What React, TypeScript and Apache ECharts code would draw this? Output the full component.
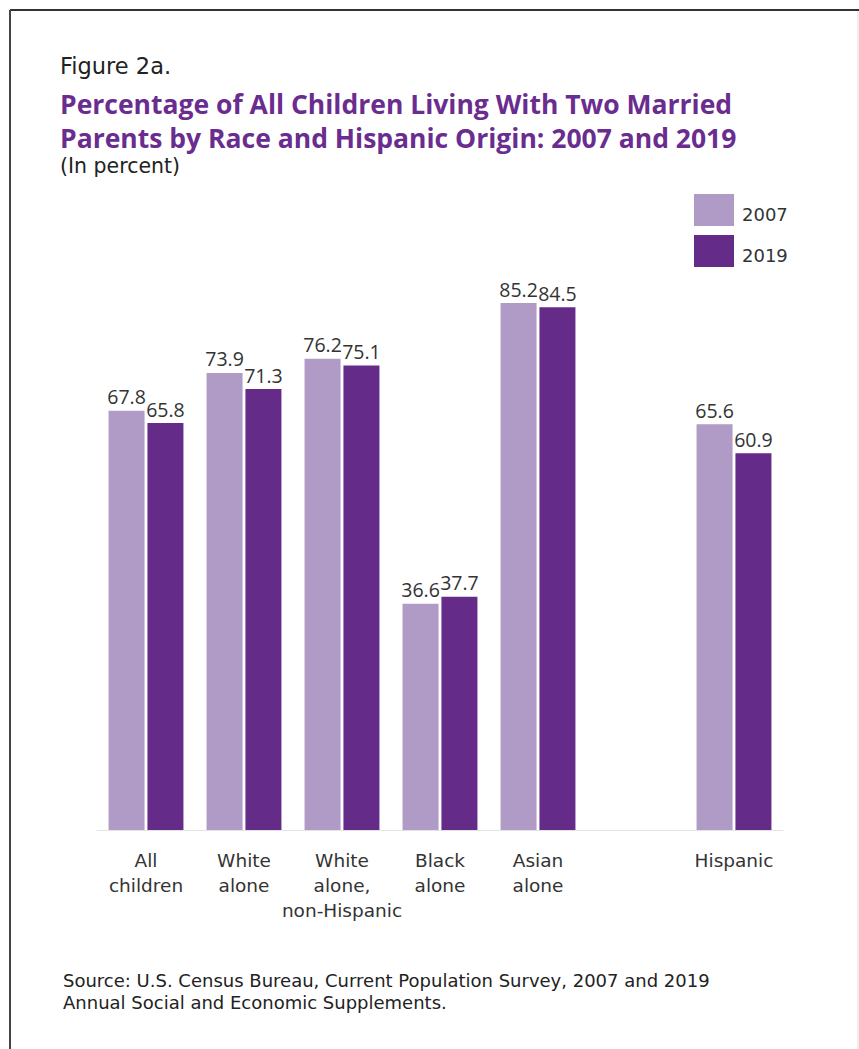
import React, { useEffect, useRef } from "react";
import * as echarts from "echarts";

const categories = ["All\nchildren", "White\nalone", "White\nalone,\nnon-Hispanic", "Black\nalone", "Asian\nalone", "", "Hispanic"];
const values2007 = [67.8, 73.9, 76.2, 36.6, 85.2, null, 65.6];
const values2019 = [65.8, 71.3, 75.1, 37.7, 84.5, null, 60.9];
const seriesNames = ["2007", "2019"];

const LIGHT = "#B09AC6";
const DARK = "#642C88";
const TEXT = "#333333";
const FONT = "DejaVu Sans";
const LABEL_FONT = "Open Sans";
const TITLE_FONT = "Open Sans";

export default function App() {
  const ref = useRef<HTMLDivElement>(null);
  useEffect(() => {
    if (!ref.current) return;
    const chart = echarts.init(ref.current, null, { renderer: "svg" });
    const label = {
      show: true,
      position: "top",
      distance: 4,
      color: TEXT,
      fontSize: 19.5,
      fontFamily: LABEL_FONT,
      formatter: (p: any) => (p.value == null ? "" : Number(p.value).toFixed(1)),
    };
    chart.setOption({
      animation: false,
      backgroundColor: "#ffffff",
      textStyle: { fontFamily: FONT },
      graphic: [
        { type: "line", shape: { x1: 10, y1: 10, x2: 859, y2: 10 }, style: { stroke: "#333", lineWidth: 2 } },
        { type: "line", shape: { x1: 10, y1: 10, x2: 10, y2: 1049 }, style: { stroke: "#444", lineWidth: 2 } },
        { type: "line", shape: { x1: 858, y1: 11, x2: 858, y2: 1049 }, style: { stroke: "#dddddd", lineWidth: 1 } },
        { type: "text", left: 60, top: 54, style: { text: "Figure 2a.", fontSize: 22.5, fill: "#222", fontFamily: FONT } },
        {
          type: "text",
          left: 60,
          top: 90,
          style: { text: "Percentage of All Children Living With Two Married", fontSize: 26.5, fontWeight: "bold", fill: "#6A2D8F", fontFamily: TITLE_FONT },
        },
        {
          type: "text",
          left: 60,
          top: 124,
          style: { text: "Parents by Race and Hispanic Origin: 2007 and 2019", fontSize: 26.5, fontWeight: "bold", fill: "#6A2D8F", fontFamily: TITLE_FONT },
        },
        { type: "text", left: 60, top: 155, style: { text: "(In percent)", fontSize: 20.5, fill: "#222", fontFamily: FONT } },
        {
          type: "text",
          left: 63,
          top: 969,
          style: {
            text: "Source: U.S. Census Bureau, Current Population Survey, 2007 and 2019\nAnnual Social and Economic Supplements.",
            fontSize: 18,
            lineHeight: 22,
            fill: "#222",
            fontFamily: FONT,
          },
        },
      ],
      legend: {
        orient: "vertical",
        left: 689,
        top: 189,
        itemWidth: 40,
        itemHeight: 32,
        itemGap: 9,
        icon: "rect",
        formatter: (name: string) => `{t|${name}}`,
        textStyle: {
          fontSize: 18,
          color: TEXT,
          fontFamily: FONT,
          rich: { t: { fontSize: 18, color: TEXT, fontFamily: FONT, padding: [8, 0, 0, 3] } },
        },
        data: seriesNames,
      },
      grid: { left: 97, right: 76, top: 211.5, bottom: 219, containLabel: false },
      xAxis: {
        type: "category",
        data: categories,
        axisLine: { show: true, lineStyle: { color: "#e3e3e3", width: 1 } },
        axisTick: { show: false },
        axisLabel: {
          interval: 0,
          margin: 18,
          fontSize: 18.5,
          lineHeight: 25,
          color: TEXT,
          fontFamily: FONT,
        },
      },
      yAxis: {
        type: "value",
        min: 0,
        max: 100,
        show: false,
        splitLine: { show: false },
      },
      series: [
        {
          name: seriesNames[0],
          type: "bar",
          data: values2007,
          barWidth: 36,
          barGap: "8%",
          itemStyle: { color: LIGHT },
          label,
        },
        {
          name: seriesNames[1],
          type: "bar",
          data: values2019,
          barWidth: 36,
          barGap: "8%",
          itemStyle: { color: DARK },
          label,
        },
      ],
    });
    return () => chart.dispose();
  }, []);
  return (
    <div
      ref={ref}
      style={{ position: "absolute", left: 0, top: 0, width: 859, height: 1049 }}
    />
  );
}
